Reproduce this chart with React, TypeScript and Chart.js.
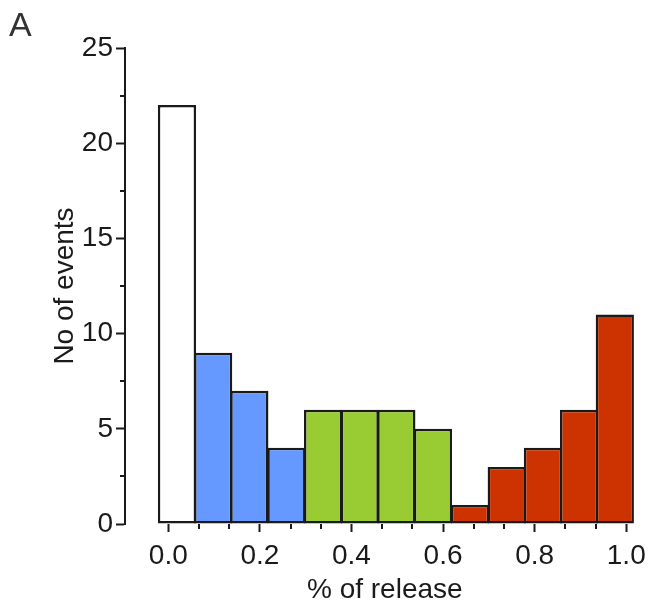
import React, { useEffect, useRef } from 'react';
import { Chart, registerables } from 'chart.js';

Chart.register(...registerables);

// ---- data ----
const binCenters = [0.019, 0.098, 0.177, 0.258, 0.338, 0.418, 0.498, 0.578, 0.659, 0.739, 0.818, 0.897, 0.975];
const counts = [22, 9, 7, 4, 6, 6, 6, 5, 1, 3, 4, 6, 11];
const barColors = [
  '#ffffff',
  '#6699ff', '#6699ff', '#6699ff',
  '#99cc33', '#99cc33', '#99cc33', '#99cc33',
  '#cc3300', '#cc3300', '#cc3300', '#cc3300', '#cc3300',
];
const xMajorTicks = [0, 0.2, 0.4, 0.6, 0.8, 1.0];
const xMinorTicks = [0.067, 0.133, 0.267, 0.333, 0.467, 0.533, 0.667, 0.733, 0.867, 0.933];
const yMajorTicks = [0, 5, 10, 15, 20, 25];
const yMinorTicks = [2.5, 7.5, 12.5, 17.5, 22.5];
const panelLabel = 'A';
const xTitle = '% of release';
const yTitle = 'No of events';

const FONT = '"Liberation Sans", Arial, Helvetica, sans-serif';
const INK = '#1a1a1a';

export default function App() {
  const canvasRef = useRef<HTMLCanvasElement | null>(null);

  useEffect(() => {
    const canvas = canvasRef.current;
    if (!canvas) return;

    const extras = {
      id: 'extras',
      afterDraw(chart: any) {
        const ctx = chart.ctx as CanvasRenderingContext2D;
        const xs = chart.scales.x;
        const ys = chart.scales.y;
        ctx.save();
        ctx.strokeStyle = INK;
        ctx.lineWidth = 2;
        yMinorTicks.forEach((v) => {
          const py = Math.round(ys.getPixelForValue(v));
          ctx.beginPath();
          ctx.moveTo(ys.right, py);
          ctx.lineTo(ys.right - 5, py);
          ctx.stroke();
        });
        xMinorTicks.forEach((v) => {
          const px = Math.round(xs.getPixelForValue(v));
          ctx.beginPath();
          ctx.moveTo(px, xs.top);
          ctx.lineTo(px, xs.top + 5);
          ctx.stroke();
        });
        ctx.fillStyle = '#333';
        ctx.font = `300 34px ${FONT}`;
        ctx.textBaseline = 'top';
        ctx.textAlign = 'left';
        ctx.fillText(panelLabel, 9, 10);
        ctx.restore();
      },
    };

    const font = { family: FONT, size: 28 };

    const chart = new Chart(canvas, {
      type: 'bar',
      data: {
        datasets: [
          {
            data: binCenters.map((x, i) => ({ x, y: counts[i] })),
            backgroundColor: barColors,
            borderColor: INK,
            borderWidth: 2.5,
            borderSkipped: false,
            barPercentage: 1.07,
            categoryPercentage: 1,
          } as any,
        ],
      },
      options: {
        responsive: false,
        animation: false,
        devicePixelRatio: 1,
        layout: { padding: { left: 0, top: 48, right: 8, bottom: 0 }, autoPadding: false } as any,
        plugins: { legend: { display: false }, tooltip: { enabled: false }, title: { display: false } },
        scales: {
          x: {
            type: 'linear',
            offset: false,
            min: -0.0945,
            max: 1.04,
            afterBuildTicks: (s: any) => {
              s.ticks = xMajorTicks.map((v) => ({ value: v }));
            },
            afterFit: (s: any) => {
              s.height = 88;
            },
            ticks: {
              callback: (v: any) => Number(v).toFixed(1),
              font,
              color: INK,
              padding: 7,
              autoSkip: false,
              maxRotation: 0,
              minRotation: 0,
            },
            grid: {
              display: true,
              offset: false,
              drawOnChartArea: false,
              drawTicks: true,
              tickLength: 8,
              tickWidth: 2,
              tickColor: INK,
            },
            border: { display: false },
            title: { display: true, text: xTitle, font, color: INK, padding: { top: 0, bottom: 5 } },
          },
          y: {
            min: 0,
            max: 25,
            afterBuildTicks: (s: any) => {
              s.ticks = yMajorTicks.map((v) => ({ value: v }));
            },
            afterFit: (s: any) => {
              s.width = 125;
            },
            ticks: { font, color: INK, padding: 3 },
            grid: {
              display: true,
              drawOnChartArea: false,
              drawTicks: true,
              tickLength: 9,
              tickWidth: 2,
              tickColor: INK,
            },
            border: { display: true, color: INK, width: 2 },
            title: { display: true, text: yTitle, font, color: INK, padding: { top: 48, bottom: 0 } },
          },
        },
      } as any,
      plugins: [extras],
    });

    return () => chart.destroy();
  }, []);

  return (
    <canvas
      ref={canvasRef}
      width={653}
      height={612}
      style={{ position: 'absolute', left: 0, top: 0, width: 653, height: 612, background: '#fff' }}
    />
  );
}
